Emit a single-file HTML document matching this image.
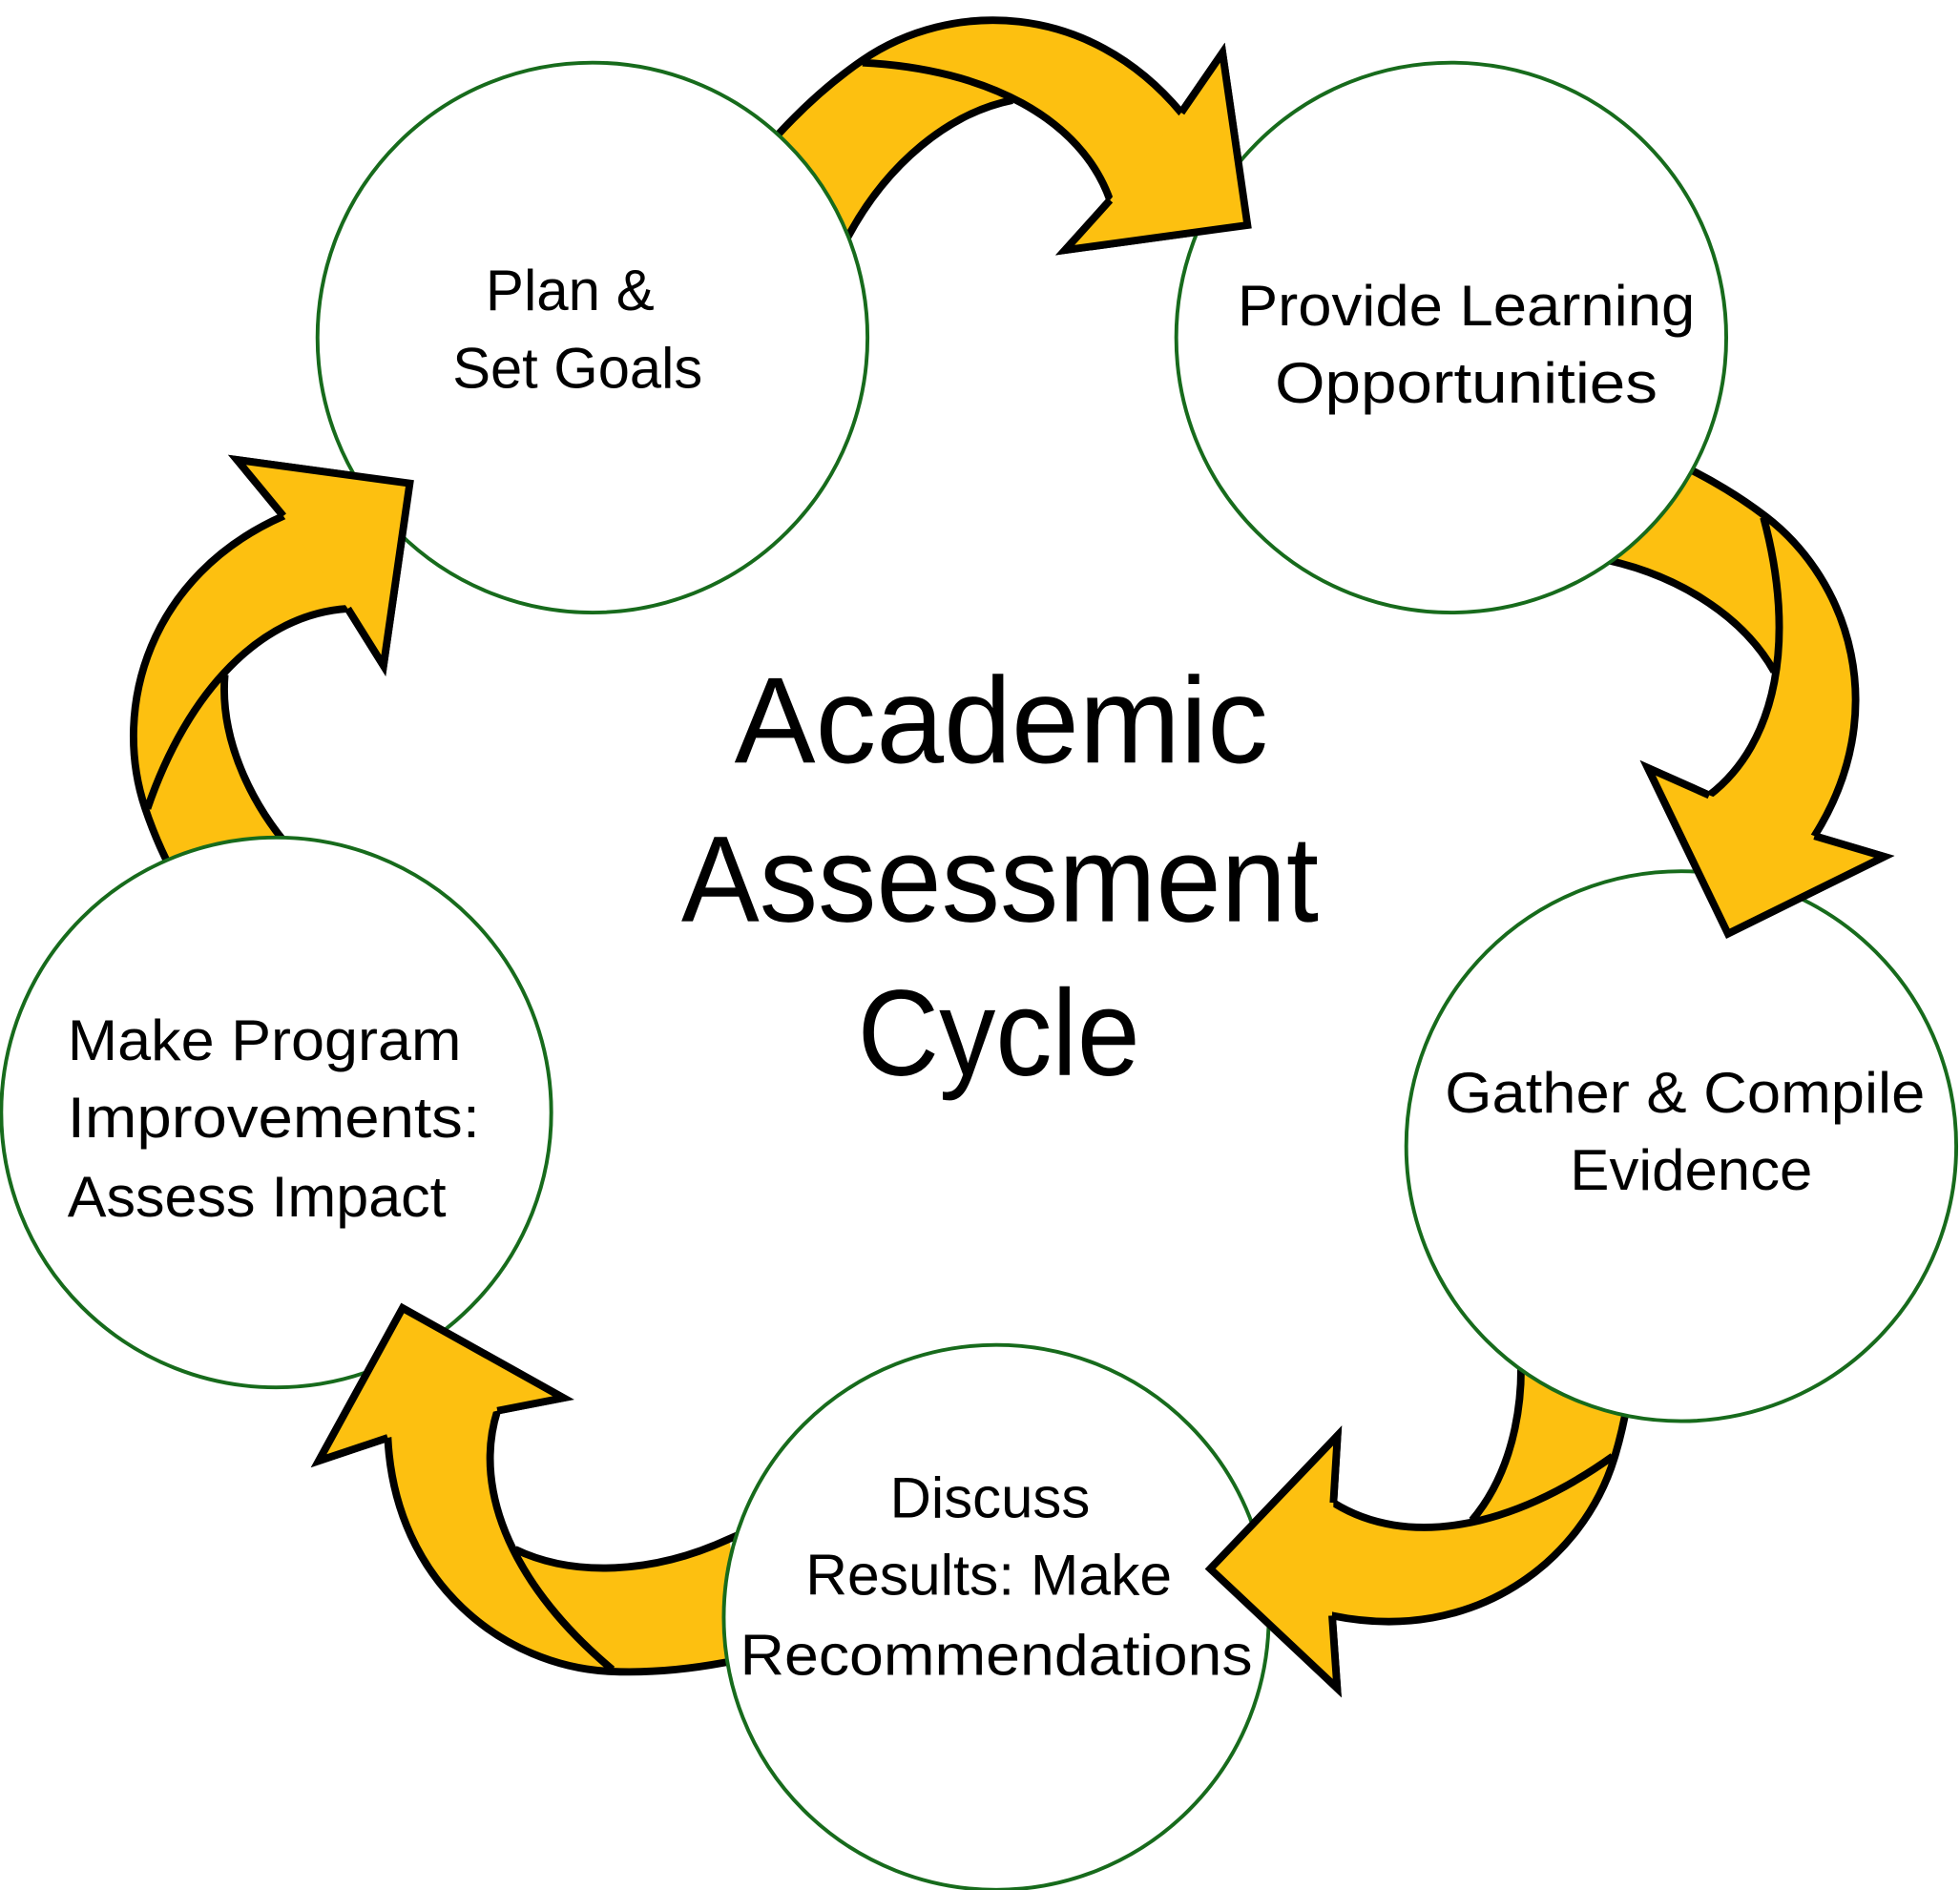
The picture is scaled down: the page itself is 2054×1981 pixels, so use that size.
<!DOCTYPE html>
<html><head><meta charset="utf-8"><style>html,body{margin:0;padding:0;background:#fff}svg{display:block}</style></head>
<body>
<svg width="2054" height="1981" viewBox="0 0 1568 1512" xmlns="http://www.w3.org/2000/svg">
<defs>
<g id="band">
  <path d="M640,150 L622,108 Q655,72 690,48 C760,0 870,0 945,90 L978,42 L998,180 L852,200 L888,160 C870,110 840,88 810,80 C760,90 710,130 678,190 Z" fill="#FDC010"/>
  <path d="M600,132 L622,108 Q655,72 690,48 C760,0 870,0 945,90 L978,42 L998,180 L852,200 L888,160 C865,95 790,55 690,50" fill="none" stroke="#000" stroke-width="6" stroke-linejoin="miter"/>
  <path d="M660,222 L678,190 C710,130 760,90 810,80" fill="none" stroke="#000" stroke-width="6"/>
</g>
<g id="head">
  <path d="M945,90 L978,42 L998,180 L852,200 L888,160 Z" fill="#FDC010"/>
  <path d="M945,90 L978,42 L998,180 L852,200 L888,160" fill="none" stroke="#000" stroke-width="6"/>
</g>
</defs>
<rect width="1568" height="1512" fill="#fff"/>
<use href="#band"/>
<use href="#band" transform="rotate(72 800 728)"/>
<use href="#band" transform="translate(-18,-25) rotate(141.5 800 728)"/>
<use href="#band" transform="translate(10,0) rotate(217 800 728)"/>
<use href="#band" transform="rotate(286 800 728)"/>
<g fill="#fff" stroke="#176b1c" stroke-width="3">
  <circle cx="474" cy="270" r="220"/>
  <circle cx="1161" cy="270" r="220"/>
  <circle cx="1345" cy="917" r="220"/>
  <circle cx="797" cy="1294" r="218"/>
  <circle cx="221" cy="890" r="220"/>
</g>
<use href="#head"/>
<use href="#head" transform="rotate(72 800 728)"/>
<use href="#head" transform="translate(-18,-25) rotate(141.5 800 728)"/>
<use href="#head" transform="translate(10,0) rotate(217 800 728)"/>
<use href="#head" transform="rotate(286 800 728)"/>
<g font-family="Liberation Sans, sans-serif" font-size="46" fill="#000" text-anchor="middle">
  <text x="456" y="248" textLength="135" lengthAdjust="spacingAndGlyphs">Plan &amp;</text>
  <text x="462" y="310" textLength="200" lengthAdjust="spacingAndGlyphs">Set Goals</text>
  <text x="1173" y="260" textLength="366" lengthAdjust="spacingAndGlyphs">Provide Learning</text>
  <text x="1173" y="322" textLength="306" lengthAdjust="spacingAndGlyphs">Opportunities</text>
  <text x="1348" y="890" textLength="384" lengthAdjust="spacingAndGlyphs">Gather &amp; Compile</text>
  <text x="1353" y="952" textLength="194" lengthAdjust="spacingAndGlyphs">Evidence</text>
  <text x="792" y="1214" textLength="160" lengthAdjust="spacingAndGlyphs">Discuss</text>
  <text x="791" y="1276" textLength="293" lengthAdjust="spacingAndGlyphs">Results: Make</text>
  <text x="797" y="1340" textLength="410" lengthAdjust="spacingAndGlyphs">Recommendations</text>
</g>
<g font-family="Liberation Sans, sans-serif" font-size="46" fill="#000" text-anchor="start">
  <text x="54" y="848" textLength="315" lengthAdjust="spacingAndGlyphs">Make Program</text>
  <text x="54" y="910" textLength="330" lengthAdjust="spacingAndGlyphs">Improvements:</text>
  <text x="54" y="973" textLength="303" lengthAdjust="spacingAndGlyphs">Assess Impact</text>
</g>
<g font-family="Liberation Sans, sans-serif" font-size="98" fill="#000" text-anchor="middle">
  <text x="801" y="610" textLength="427" lengthAdjust="spacingAndGlyphs">Academic</text>
  <text x="800" y="737" textLength="510" lengthAdjust="spacingAndGlyphs">Assessment</text>
  <text x="799" y="860" textLength="226" lengthAdjust="spacingAndGlyphs">Cycle</text>
</g>
</svg>
</body></html>
